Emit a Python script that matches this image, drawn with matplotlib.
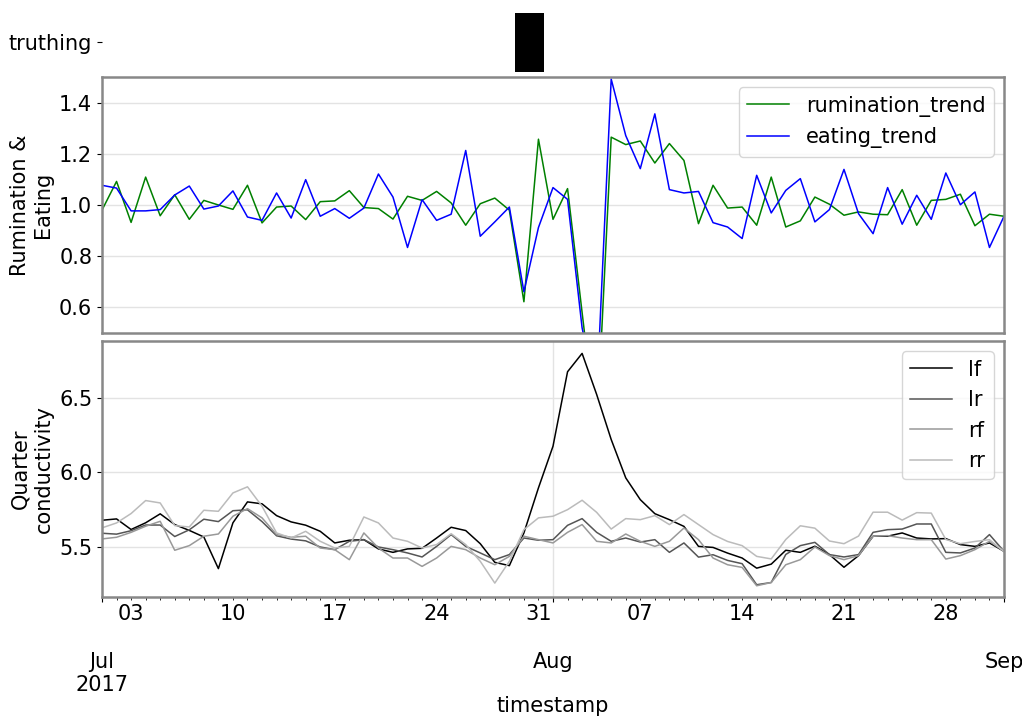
import numpy as np
import pandas as pd
import matplotlib
matplotlib.use("Agg")
import matplotlib.pyplot as plt
import matplotlib.dates as mdates
from matplotlib.ticker import FuncFormatter

# daily values, 1 Jul 2017 .. 1 Sep 2017
dates = pd.date_range("2017-07-01", "2017-09-01", freq="D")

rumination_trend = [
    0.98, 1.092, 0.932, 1.109, 0.958, 1.04, 0.944, 1.018, 1.0, 0.983,
    1.077, 0.93, 0.992, 0.996, 0.943, 1.013, 1.016, 1.056, 0.99, 0.986,
    0.945, 1.034, 1.018, 1.053, 1.008, 0.921, 1.005, 1.027, 0.98, 0.622,
    1.257, 0.944, 1.064, 0.58, 0.1, 1.265, 1.236, 1.25, 1.164, 1.24,
    1.174, 0.927, 1.077, 0.988, 0.992, 0.921, 1.109, 0.914, 0.938, 1.031,
    1.003, 0.96, 0.973, 0.964, 0.962, 1.06, 0.921, 1.018, 1.022, 1.042,
    0.919, 0.964, 0.956]
eating_trend = [
    1.077, 1.066, 0.977, 0.977, 0.982, 1.039, 1.074, 0.984, 0.996, 1.055,
    0.953, 0.94, 1.047, 0.949, 1.099, 0.956, 0.986, 0.948, 0.988, 1.121,
    1.031, 0.834, 1.021, 0.94, 0.964, 1.213, 0.878, 0.934, 0.992, 0.661,
    0.912, 1.068, 1.022, 0.52, 0.25, 1.492, 1.271, 1.142, 1.356, 1.06,
    1.047, 1.053, 0.931, 0.914, 0.869, 1.116, 0.969, 1.057, 1.103, 0.934,
    0.982, 1.139, 0.966, 0.888, 1.068, 0.925, 1.038, 0.944, 1.125, 1.001,
    1.051, 0.834, 0.956]

lf = [
    5.679, 5.688, 5.617, 5.662, 5.722, 5.65, 5.611, 5.567, 5.355, 5.662,
    5.802, 5.789, 5.71, 5.668, 5.646, 5.605, 5.527, 5.545, 5.549, 5.487,
    5.464, 5.487, 5.491, 5.56, 5.632, 5.61, 5.522, 5.397, 5.375, 5.594,
    5.896, 6.175, 6.674, 6.797, 6.522, 6.22, 5.963, 5.817, 5.723, 5.683,
    5.638, 5.504, 5.497, 5.459, 5.426, 5.358, 5.385, 5.478, 5.464, 5.505,
    5.449, 5.364, 5.442, 5.572, 5.572, 5.594, 5.56, 5.554, 5.556, 5.516,
    5.504, 5.527, 5.471]
lr = [
    5.592, 5.586, 5.609, 5.647, 5.647, 5.57, 5.615, 5.686, 5.67, 5.743,
    5.749, 5.67, 5.575, 5.553, 5.541, 5.5, 5.482, 5.538, 5.549, 5.5,
    5.482, 5.46, 5.433, 5.504, 5.583, 5.504, 5.46, 5.415, 5.449, 5.56,
    5.545, 5.549, 5.645, 5.69, 5.598, 5.538, 5.56, 5.533, 5.549, 5.464,
    5.527, 5.432, 5.448, 5.41, 5.388, 5.247, 5.262, 5.45, 5.509, 5.531,
    5.449, 5.433, 5.449, 5.598, 5.616, 5.62, 5.654, 5.654, 5.464, 5.46,
    5.493, 5.583, 5.471]
rf = [
    5.554, 5.565, 5.598, 5.639, 5.672, 5.478, 5.509, 5.572, 5.587, 5.706,
    5.757, 5.695, 5.583, 5.565, 5.572, 5.493, 5.482, 5.415, 5.594, 5.493,
    5.426, 5.426, 5.37, 5.426, 5.504, 5.482, 5.426, 5.381, 5.437, 5.572,
    5.549, 5.527, 5.598, 5.65, 5.538, 5.527, 5.587, 5.538, 5.504, 5.538,
    5.627, 5.549, 5.426, 5.381, 5.363, 5.24, 5.262, 5.381, 5.415, 5.5,
    5.442, 5.415, 5.442, 5.572, 5.576, 5.56, 5.549, 5.549, 5.419, 5.442,
    5.482, 5.538, 5.471]
rr = [
    5.628, 5.661, 5.724, 5.811, 5.795, 5.643, 5.634, 5.746, 5.739, 5.862,
    5.903, 5.773, 5.594, 5.56, 5.605, 5.538, 5.493, 5.504, 5.701, 5.661,
    5.56, 5.538, 5.493, 5.516, 5.589, 5.516, 5.404, 5.258, 5.404, 5.616,
    5.695, 5.706, 5.75, 5.813, 5.732, 5.62, 5.69, 5.683, 5.71, 5.65,
    5.717, 5.65, 5.583, 5.537, 5.509, 5.437, 5.42, 5.55, 5.642, 5.626,
    5.54, 5.522, 5.573, 5.733, 5.733, 5.68, 5.73, 5.727, 5.55, 5.522,
    5.537, 5.549, 5.47]

# truthing window
truth_start = pd.Timestamp("2017-07-29 10:00")
truth_end = pd.Timestamp("2017-07-31 09:00")

plt.rcParams['font.family'] = ['DejaVu Sans']
plt.rcParams['font.size'] = 15

fig = plt.figure(figsize=(10.22, 7.17), dpi=100)
left, width = 0.0998, 0.8826
ax0 = fig.add_axes([left, 0.8996, width, 0.0823])
ax1 = fig.add_axes([left, 0.5356, width, 0.3570], sharex=ax0)
ax2 = fig.add_axes([left, 0.1674, width, 0.3570], sharex=ax0)

spine_col = '#888888'
grid_col = '#e3e3e3'

# truthing strip
ax0.barh(0, mdates.date2num(truth_end) - mdates.date2num(truth_start),
         left=mdates.date2num(truth_start), height=1.0, color='black')
ax0.set_ylim(-0.5, 0.5)
ax0.set_yticks([0])
ax0.set_yticklabels(['truthing'])
for s in ax0.spines.values():
    s.set_visible(False)
ax0.tick_params(axis='x', which='both', bottom=False, labelbottom=False)

# rumination / eating
ax1.plot(dates, rumination_trend, color='green', lw=1.1, label='rumination_trend')
ax1.plot(dates, eating_trend, color='blue', lw=1.1, label='eating_trend')
ax1.set_ylim(0.5, 1.5)
ax1.set_yticks([0.6, 0.8, 1.0, 1.2, 1.4])
ax1.set_ylabel('Rumination &\nEating')
ax1.legend(loc='upper right', fontsize=15)
ax1.tick_params(axis='x', which='both', bottom=False, labelbottom=False)
ax1.grid(True, axis='y', color=grid_col, lw=1.0)

# quarter conductivity
ax2.plot(dates, lf, color='black', lw=1.1, label='lf')
ax2.plot(dates, lr, color='#555555', lw=1.1, label='lr')
ax2.plot(dates, rf, color='#999999', lw=1.1, label='rf')
ax2.plot(dates, rr, color='#bbbbbb', lw=1.1, label='rr')
ax2.set_ylim(5.165, 6.88)
ax2.set_yticks([5.5, 6.0, 6.5])
ax2.set_ylabel('Quarter\nconductivity')
ax2.set_xlabel('timestamp', labelpad=1)
ax2.legend(loc='upper right', fontsize=15)
ax2.grid(True, which='major', color=grid_col, lw=1.0)

for ax in (ax1, ax2):
    for s in ax.spines.values():
        s.set_color(spine_col)
        s.set_linewidth(1.8)
    ax.set_axisbelow(True)

ax2.set_xlim(dates[0], dates[-1])
ax2.xaxis.set_major_locator(mdates.MonthLocator())
ax2.xaxis.set_minor_locator(mdates.DayLocator())


def major_fmt(x, pos=None):
    d = mdates.num2date(x)
    if d.month == 7:
        return d.strftime('%b\n%Y')
    return d.strftime('%b')


def minor_fmt(x, pos=None):
    d = mdates.num2date(x)
    return d.strftime('%d') if d.weekday() == 0 else ''


ax2.xaxis.set_major_formatter(FuncFormatter(major_fmt))
ax2.xaxis.set_minor_formatter(FuncFormatter(minor_fmt))
ax2.tick_params(axis='x', which='major', pad=36)

fig.savefig('out.png', dpi=100)
